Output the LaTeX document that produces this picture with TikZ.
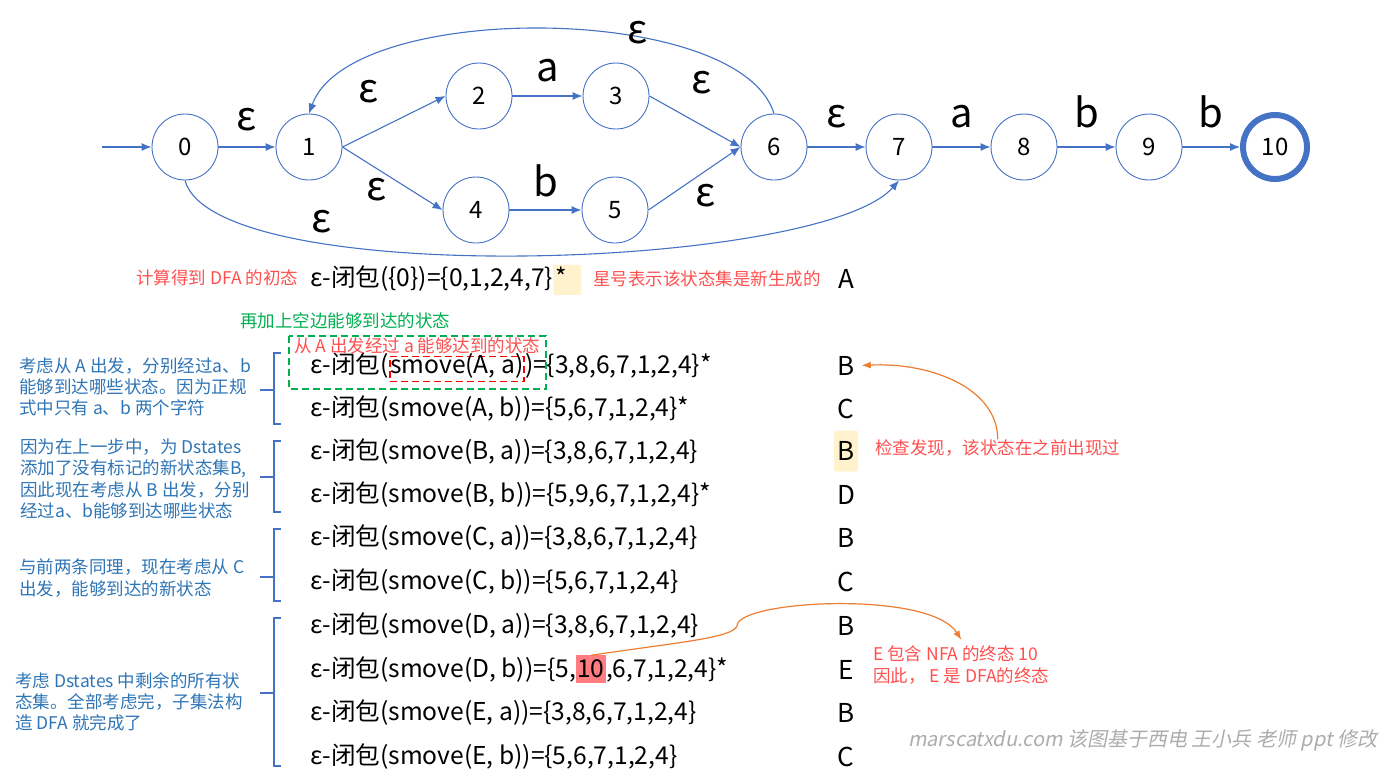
\documentclass[tikz,border=0pt]{standalone}
\usepackage{fontspec}
\setmainfont{Noto Sans CJK SC}
\newfontfamily\markfont[FakeSlant=0.2]{Noto Sans CJK SC}
\usetikzlibrary{arrows.meta, positioning}
\definecolor{nfablue}{HTML}{4472C4}
\definecolor{noteblue}{HTML}{2E75B6}
\definecolor{notered}{HTML}{FF5050}
\definecolor{notegreen}{HTML}{00B050}
\definecolor{markyellow}{HTML}{FFF2CC}
\definecolor{markred}{HTML}{FF7C80}
\definecolor{curveorange}{HTML}{ED7D31}
\definecolor{markgray}{HTML}{AFABAB}
\tikzstyle{arrow} = [draw=nfablue, line width=1.1pt, -{Latex[length=10pt,width=8pt]}]
\tikzstyle{nstate} = [circle, draw=nfablue, line width=0.9pt, minimum size=66pt, inner sep=0pt, font=\fontsize{24}{28}\selectfont]
\tikzstyle{nfinal} = [nstate, line width=6pt, minimum size=64pt]
\tikzstyle{elabel} = [inner sep=0pt, font=\fontsize{40}{44}\selectfont]
\tikzstyle{setrow} = [anchor=west, inner sep=0pt, font=\fontsize{24.6}{28}\selectfont]
\tikzstyle{dfatag} = [inner sep=0pt, font=\fontsize{26}{30}\selectfont]
\tikzstyle{starbox} = [fill=markyellow, rounded corners=2pt, inner xsep=2pt, inner ysep=2pt, text width=24pt, align=left, text height=20pt, text depth=6pt, font=\fontsize{24.6}{28}\selectfont]
\tikzstyle{redbox} = [draw=red, dash pattern=on 7pt off 4pt, line width=1.8pt, inner xsep=0.5pt, inner ysep=1pt, text height=16pt, text depth=7pt, font=\fontsize{24.6}{28}\selectfont]
\tikzstyle{tenbox} = [fill=markred, inner xsep=1pt, inner ysep=3pt, text height=19pt, text depth=3pt, font=\fontsize{24.6}{28}\selectfont]
\tikzstyle{bluenote} = [anchor=west, inner sep=0pt, align=left, text=noteblue, font=\fontsize{17.5}{21.3}\selectfont]
\tikzstyle{rednote} = [bluenote, text=notered]
\tikzstyle{greenbox} = [draw=notegreen, dash pattern=on 7pt off 4pt, line width=1.8pt]
\tikzstyle{bracket} = [draw=nfablue, line width=1.8pt]
\tikzstyle{orarrow} = [draw=curveorange, line width=1.2pt, -{Latex[length=9pt,width=7pt]}]
\begin{document}
\begin{tikzpicture}[x=1pt, y=-1pt]
        \useasboundingbox (0,0) rectangle (1399,776);

        % the NFA
        \coordinate (start) at (102,147);
        \node at (185,147) [nstate](n0) {0};
        \node at (309,147) [nstate](n1) {1};
        \node at (479,96) [nstate](n2) {2};
        \node at (616,96) [nstate](n3) {3};
        \node at (476,210) [nstate](n4) {4};
        \node at (615,210) [nstate](n5) {5};
        \node at (774,147) [nstate](n6) {6};
        \node at (899,147) [nstate](n7) {7};
        \node at (1024,147) [nstate](n8) {8};
        \node at (1149,147) [nstate](n9) {9};
        \node at (1275,147) [nfinal](n10) {10};

        \draw[arrow] (start) -- (n0);
        \draw[arrow] (n0) -- node[elabel, above=15pt](e01){ε} (n1);
        \draw[arrow] (n1.east) -- node[elabel, pos=0.255, above=30pt](e12){ε} (n2.west);
        \draw[arrow] (n1.east) -- node[elabel, pos=0.337, below=9pt](e14){ε} (n4.west);
        \draw[arrow] (n2) -- node[elabel, above=13pt](e23){a} (n3);
        \draw[arrow] (n4) -- node[elabel, above=12pt](e45){b} (n5);
        \draw[arrow] (n3.east) -- node[elabel, pos=0.571, above=31pt](e36){ε} (n6.west);
        \draw[arrow] (n5.east) -- node[elabel, pos=0.62, below=13pt](e56){ε} (n6.west);
        \draw[arrow] (n6) -- node[elabel, above=18pt](e67){ε} (n7);
        \draw[arrow] (n7) -- node[elabel, above=18pt](e78){a} (n8);
        \draw[arrow] (n8) -- node[elabel, above=18pt](e89){b} (n9);
        \draw[arrow] (n9) -- node[elabel, above=18pt](e910){b} (n10);
        \draw[arrow] (n6.north) .. controls (740,2) and (350,0) .. node[elabel, pos=0.35, yshift=4pt](e61){ε} (n1.north);
        \draw[arrow] (n0.south) .. controls (215,290) and (820,270) .. node[elabel, pos=0.28, above=10pt](e07){ε} (n7.south);

        % the subset construction
        \node at (310,279) [setrow](r0) {ε-闭包(\{0\})=\{0,1,2,4,7\}};
        \node [starbox, base right=0pt of r0](s0) {*};
        \node at (310,365.5) [setrow](r1) {ε-闭包(};
        \node [redbox, base right=0pt of r1](sa) {smove(A, a)};
        \node [setrow, base right=0pt of sa](r1b) {)=\{3,8,6,7,1,2,4\}*};
        \node at (310,409) [setrow](r2) {ε-闭包(smove(A, b))=\{5,6,7,1,2,4\}*};
        \node at (310,452) [setrow](r3) {ε-闭包(smove(B, a))=\{3,8,6,7,1,2,4\}};
        \node at (310,495) [setrow](r4) {ε-闭包(smove(B, b))=\{5,9,6,7,1,2,4\}*};
        \node at (310,537.5) [setrow](r5) {ε-闭包(smove(C, a))=\{3,8,6,7,1,2,4\}};
        \node at (310,582) [setrow](r6) {ε-闭包(smove(C, b))=\{5,6,7,1,2,4\}};
        \node at (310,625.5) [setrow](r7) {ε-闭包(smove(D, a))=\{3,8,6,7,1,2,4\}};
        \node at (310,669.5) [setrow](r8) {ε-闭包(smove(D, b))=\{5,};
        \node [tenbox, base right=0pt of r8](ten) {10};
        \node [setrow, base right=0pt of ten](r8b) {,6,7,1,2,4\}*};
        \node at (310,713) [setrow](r9) {ε-闭包(smove(E, a))=\{3,8,6,7,1,2,4\}};
        \node at (310,757) [setrow](r10) {ε-闭包(smove(E, b))=\{5,6,7,1,2,4\}};

        \node at (846,279) [dfatag](t0) {A};
        \node at (846,365.5) [dfatag](t1) {B};
        \node at (846,409) [dfatag](t2) {C};
        \node at (846,451) [dfatag, fill=markyellow, rounded corners=2pt, minimum width=24pt, minimum height=41pt](t3) {B};
        \node at (846,495) [dfatag](t4) {D};
        \node at (846,537.5) [dfatag](t5) {B};
        \node at (846,582) [dfatag](t6) {C};
        \node at (846,625.5) [dfatag](t7) {B};
        \node at (846,669.5) [dfatag](t8) {E};
        \node at (846,713) [dfatag](t9) {B};
        \node at (846,757) [dfatag](t10) {C};

        % notes
        \node at (136,278) [rednote](initnote) {计算得到 DFA 的初态};
        \node at (593,279) [rednote](starnote) {星号表示该状态集是新生成的};
        \node at (240,321) [rednote, text=notegreen](epsnote) {再加上空边能够到达的状态};
        \draw[greenbox] (289,336) rectangle (546,389);
        \node at (294,346) [rednote](anote) {从 A 出发经过 a 能够达到的状态};

        \node at (19,387) [bluenote](note1) {考虑从 A 出发，分别经过a、b\\能够到达哪些状态。因为正规\\式中只有 a、b 两个字符};
        \node at (20,479) [bluenote](note2) {因为在上一步中，为 Dstates\\添加了没有标记的新状态集B,\\因此现在考虑从 B 出发，分别\\经过a、b能够到达哪些状态};
        \node at (19,578) [bluenote](note3) {与前两条同理，现在考虑从 C\\出发，能够到达的新状态};
        \node at (15,702) [bluenote](note4) {考虑 Dstates 中剩余的所有状\\态集。全部考虑完，子集法构\\造 DFA 就完成了};

        \draw[bracket] (281,353) -- (274,353) -- (274,424) -- (281,424) (274,390) -- (260,390);
        \draw[bracket] (281,441) -- (274,441) -- (274,512) -- (281,512) (274,477) -- (260,477);
        \draw[bracket] (281,529) -- (274,529) -- (274,601) -- (281,601) (274,577) -- (260,577);
        \draw[bracket] (281,618) -- (274,618) -- (274,766) -- (281,766) (274,693) -- (260,693);

        \node at (875,448) [rednote](chk) {检查发现，该状态在之前出现过};
        \draw[orarrow] (chk.north) .. controls (998,388) and (930,362) .. ([xshift=7pt]t1.east);

        \node at (873,665) [rednote](endnote) {E 包含 NFA 的终态 10\\因此， E 是 DFA的终态};
        \coordinate (kink) at (737,626);
        \draw[orarrow] (ten.north) .. controls (680,642) and (732,638) .. (kink) .. controls (737,600) and (930,590) .. ([yshift=6pt]endnote.north);

        \node at (908,740) [anchor=west, inner sep=0pt, text=markgray, font=\markfont\fontsize{20}{24}\selectfont](mark) {marscatxdu.com 该图基于西电 王小兵 老师 ppt 修改};

\end{tikzpicture}
\end{document}
